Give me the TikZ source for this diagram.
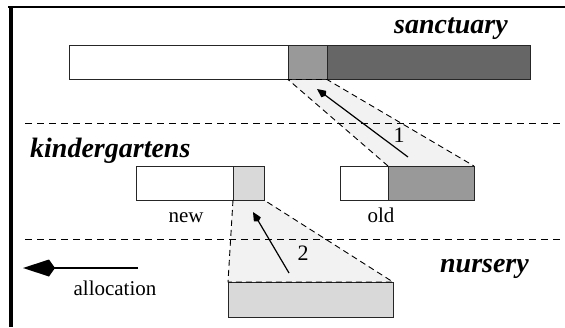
\documentclass[tikz,border=0pt]{standalone}
\usepackage{fontspec}
\setmainfont{Liberation Serif}
\usetikzlibrary{positioning, arrows.meta, backgrounds}

\definecolor{midgrey}{HTML}{999999}
\definecolor{darkgrey}{HTML}{666666}
\definecolor{lightgrey}{HTML}{D9D9D9}
\definecolor{shadegrey}{HTML}{F2F2F2}

\tikzset{
    seg/.style={rectangle, draw=black!85, line width=0.9pt, inner sep=0pt, outer sep=0pt, minimum height=34pt, anchor=north west},
    gen/.style={font=\fontsize{28}{30}\selectfont\bfseries\itshape, inner sep=0pt},
    lbl/.style={font=\fontsize{21}{24}\selectfont, inner sep=0pt},
    divider/.style={dash pattern=on 7pt off 5pt, line width=0.9pt},
    copyarrow/.style={line width=1.2pt, -{Kite[length=11pt, width=8pt, inset=2.5pt]}},
}

\begin{document}
\begin{tikzpicture}[x=1pt, y=-1pt]
\useasboundingbox (0,0) rectangle (565,327);

% frame
\draw[line width=2pt] (8,7) -- (565,7);
\draw[line width=4pt] (11,6) -- (11,327);

% generation dividers
\draw[divider] (25,123) -- (565,123);
\draw[divider] (25,239) -- (565,239);

\node[gen, anchor=base east] (sanct) at (508,33) {sanctuary};
\node[gen, anchor=base west] (kinder) at (30,157) {kindergartens};
\node[gen, anchor=base east] (nurs) at (529,272) {nursery};

% sanctuary
\node[seg, minimum width=219pt, fill=white] (sfree) at (69,45.5) {};
\node[seg, minimum width=39pt, fill=midgrey, right=0pt of sfree] (sgrey) {};
\node[seg, minimum width=203pt, fill=darkgrey, right=0pt of sgrey] (sold) {};

% kindergartens
\node[seg, minimum width=97pt, fill=white] (nfree) at (136,166) {};
\node[seg, minimum width=31pt, fill=lightgrey, right=0pt of nfree] (ngrey) {};
\node[seg, minimum width=48pt, fill=white] (ofree) at (340,166) {};
\node[seg, minimum width=86pt, fill=midgrey, right=0pt of ofree] (ogrey) {};

\node[lbl, anchor=base] (new) at (186,222) {new};
\node[lbl, anchor=base] (old) at (381,222) {old};

% nursery
\node[seg, minimum width=165pt, minimum height=35pt, fill=lightgrey] (nbox) at (228,282) {};

% promotion areas
\begin{scope}[on background layer]
\fill[shadegrey] (sgrey.south west) -- (sgrey.south east) -- (ogrey.north east) -- (ogrey.north west) -- cycle;
\fill[shadegrey] (ngrey.south west) -- (ngrey.south east) -- (nbox.north east) -- (nbox.north west) -- cycle;
\end{scope}
\draw[divider, dash pattern=on 6pt off 4pt] (ogrey.north west) -- (sgrey.south west) -- (sgrey.south east) -- (ogrey.north east);
\draw[divider, dash pattern=on 6pt off 4pt] (ngrey.south west) -- (nbox.north west) -- (nbox.north east) -- (ngrey.south east);

% copying
\coordinate (c1s) at (408,157);
\coordinate (c1e) at (317,89);
\coordinate (c2s) at (289,273);
\coordinate (c2e) at (253,212);
\draw[copyarrow] (c1s) -- (c1e);
\draw[copyarrow] (c2s) -- (c2e);
\node[lbl, font=\fontsize{22}{24}\selectfont] (one) at (399,135) {1};
\node[lbl, font=\fontsize{22}{24}\selectfont] (two) at (303,253) {2};

% allocation direction
\coordinate (as) at (138,268);
\coordinate (ae) at (23,268);
\draw[line width=2.2pt, -{Kite[length=32pt, width=17pt, inset=6pt]}] (as) -- (ae);
\node[lbl, anchor=base] (alloc) at (115,295) {allocation};
\end{tikzpicture}
\end{document}
